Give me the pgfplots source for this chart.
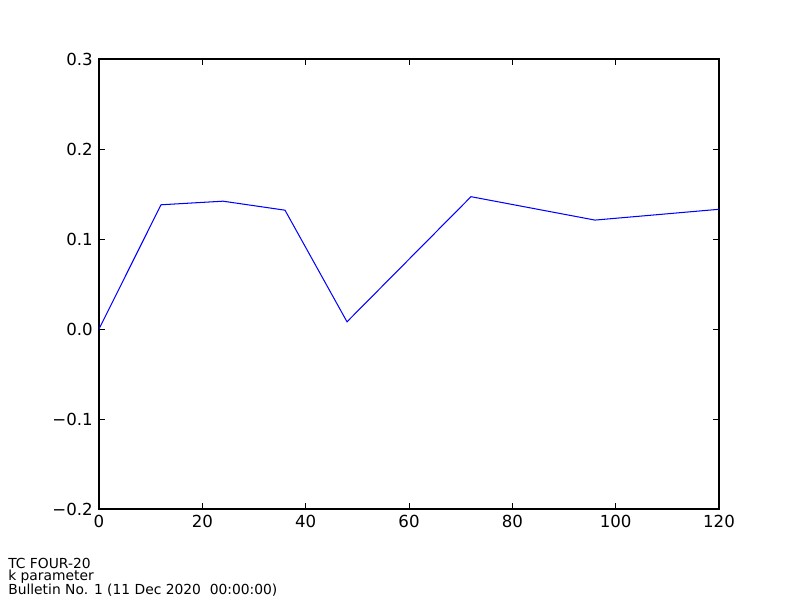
\documentclass[border=0pt]{standalone}
\usepackage{fontspec}
\setmainfont{DejaVu Sans}
\usepackage{pgfplots}
\pgfplotsset{compat=1.18}
\begin{document}
\begin{tikzpicture}[x=0.7227pt,y=0.7227pt]
\path[use as bounding box] (0,0) rectangle (800,600);
\begin{axis}[
  at={(71.55pt,65.77pt)}, anchor=south west,
  scale only axis, width=448.07pt, height=325.22pt,
  xmin=0, xmax=120, ymin=-0.2, ymax=0.3,
  xtick={0,20,40,60,80,100,120},
  ytick={-0.2,-0.1,0,0.1,0.2,0.3},
  yticklabels={−0.2,−0.1,0.0,0.1,0.2,0.3},
  tick align=inside,
  major tick length=4pt,
  minor tick num=0,
  axis line style={line width=0.8pt},
  every tick/.style={black, line width=0.6pt},
  /pgf/number format/assume math mode=true,
  tick label style={font=\fontsize{12pt}{14pt}\selectfont},
  xticklabel style={yshift=-1pt},
  yticklabel style={xshift=-1pt},
  scaled y ticks=false,
]
\addplot[color={rgb,1:red,0;green,0;blue,1}, line width=0.75pt, mark=none] coordinates {
(0,0.0) (12,0.138) (24,0.142) (36,0.132) (48,0.008) (72,0.147) (96,0.121) (120,0.133)
};
\end{axis}
\node[anchor=south west, inner sep=0pt, align=left, font=\fontsize{10pt}{8.6pt}\selectfont] at (8,3) {TC FOUR-20\\k parameter\\Bulletin No. 1 (11 Dec 2020\ \ 00:00:00)};
\end{tikzpicture}
\end{document}
